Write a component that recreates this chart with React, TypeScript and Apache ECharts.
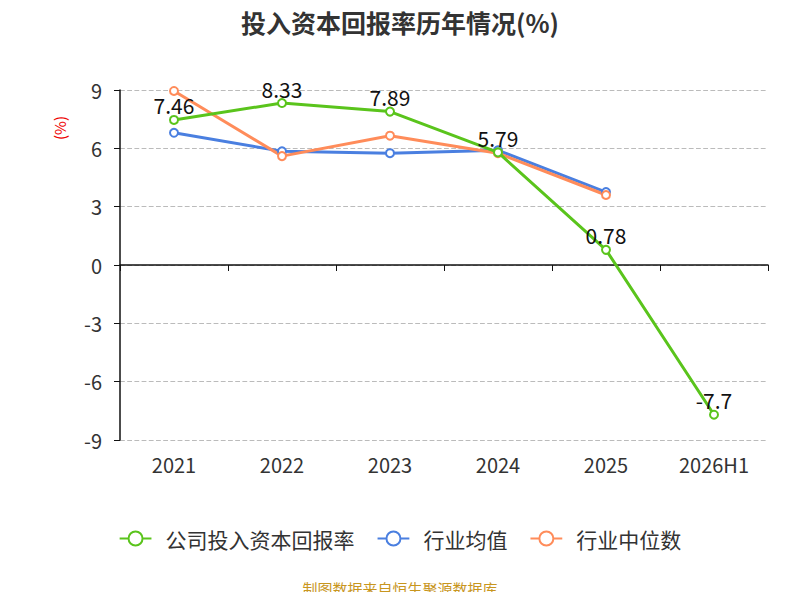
import { useEffect, useRef } from 'react'
import * as echarts from 'echarts'

const categories = ['2021', '2022', '2023', '2024', '2025', '2026H1']
const companyValues = [7.46, 8.33, 7.89, 5.79, 0.78, -7.7]
const industryAvg = [6.8, 5.85, 5.75, 5.9, 3.75, null]
const industryMedian = [8.95, 5.6, 6.65, 5.75, 3.6, null]

const font = '"Noto Sans CJK SC", "Noto Sans", sans-serif'

export default function App() {
  const ref = useRef<HTMLDivElement | null>(null)

  useEffect(() => {
    if (!ref.current) return
    const chart = echarts.init(ref.current, null, { renderer: 'svg' })
    const lineSeries = (name: string, data: (number | null)[], color: string, label: boolean) => ({
      name,
      type: 'line',
      data,
      symbol: 'circle',
      symbolSize: 8,
      lineStyle: { width: 3, color },
      itemStyle: { color: '#fff', borderColor: color, borderWidth: 2 },
      label: label
        ? { show: true, position: 'top', fontSize: 21, color: '#111', fontFamily: font, offset: [0, 6] }
        : { show: false },
      z: label ? 3 : 2,
    })
    chart.setOption({
      animation: false,
      textStyle: { fontFamily: font },
      title: {
        text: '投入资本回报率历年情况(%)',
        left: 'center',
        top: 4,
        textStyle: { fontSize: 25, fontWeight: 'bold', color: '#333', fontFamily: font },
      },
      legend: {
        bottom: 46,
        itemWidth: 50,
        itemHeight: 14,
        itemGap: 22,
        textStyle: { fontSize: 21, color: '#333' },
        icon: 'path://M0,7 L14,7 A11,11 0 1 1 36,7 L50,7 M36,7 A11,11 0 1 1 14,7',
      },
      graphic: [
        {
          type: 'text',
          left: 'center',
          bottom: 4,
          style: { text: '制图数据来自恒生聚源数据库', fontSize: 15, fill: '#c8961e', fontFamily: font },
        },
        {
          type: 'text',
          x: 52,
          y: 140,
          rotation: Math.PI / 2,
          style: { text: '(%)', fontSize: 15, fill: '#e00', fontFamily: font },
        },
      ],
      grid: { left: 120, right: 32, top: 90, bottom: 160 },
      xAxis: [
        {
          type: 'category',
          data: categories,
          axisLine: { show: false, onZero: false },
          axisTick: { show: false },
          axisLabel: { fontSize: 20, color: '#333', margin: 14 },
        },
        {
          type: 'category',
          data: categories,
          position: 'bottom',
          axisLine: { show: true, onZero: true, lineStyle: { color: '#111', width: 1.5 } },
          axisTick: { show: true, length: 6, lineStyle: { color: '#111' } },
          axisLabel: { show: false },
        },
      ],
      yAxis: {
        type: 'value',
        min: -9,
        max: 9,
        interval: 3,
        axisLine: { show: true, lineStyle: { color: '#111', width: 1.5 } },
        axisTick: { show: true, length: 6, lineStyle: { color: '#111' } },
        axisLabel: { fontSize: 20, color: '#333', margin: 18 },
        splitLine: { lineStyle: { type: 'dashed', color: '#bbb', width: 1.2 } },
      },
      series: [
        lineSeries('公司投入资本回报率', companyValues, '#5ac41c', true),
        lineSeries('行业均值', industryAvg, '#4a7fe0', false),
        lineSeries('行业中位数', industryMedian, '#ff8c5a', false),
      ],
    })
    return () => chart.dispose()
  }, [])

  return <div ref={ref} style={{ width: 800, height: 600, margin: -8 }} />
}
